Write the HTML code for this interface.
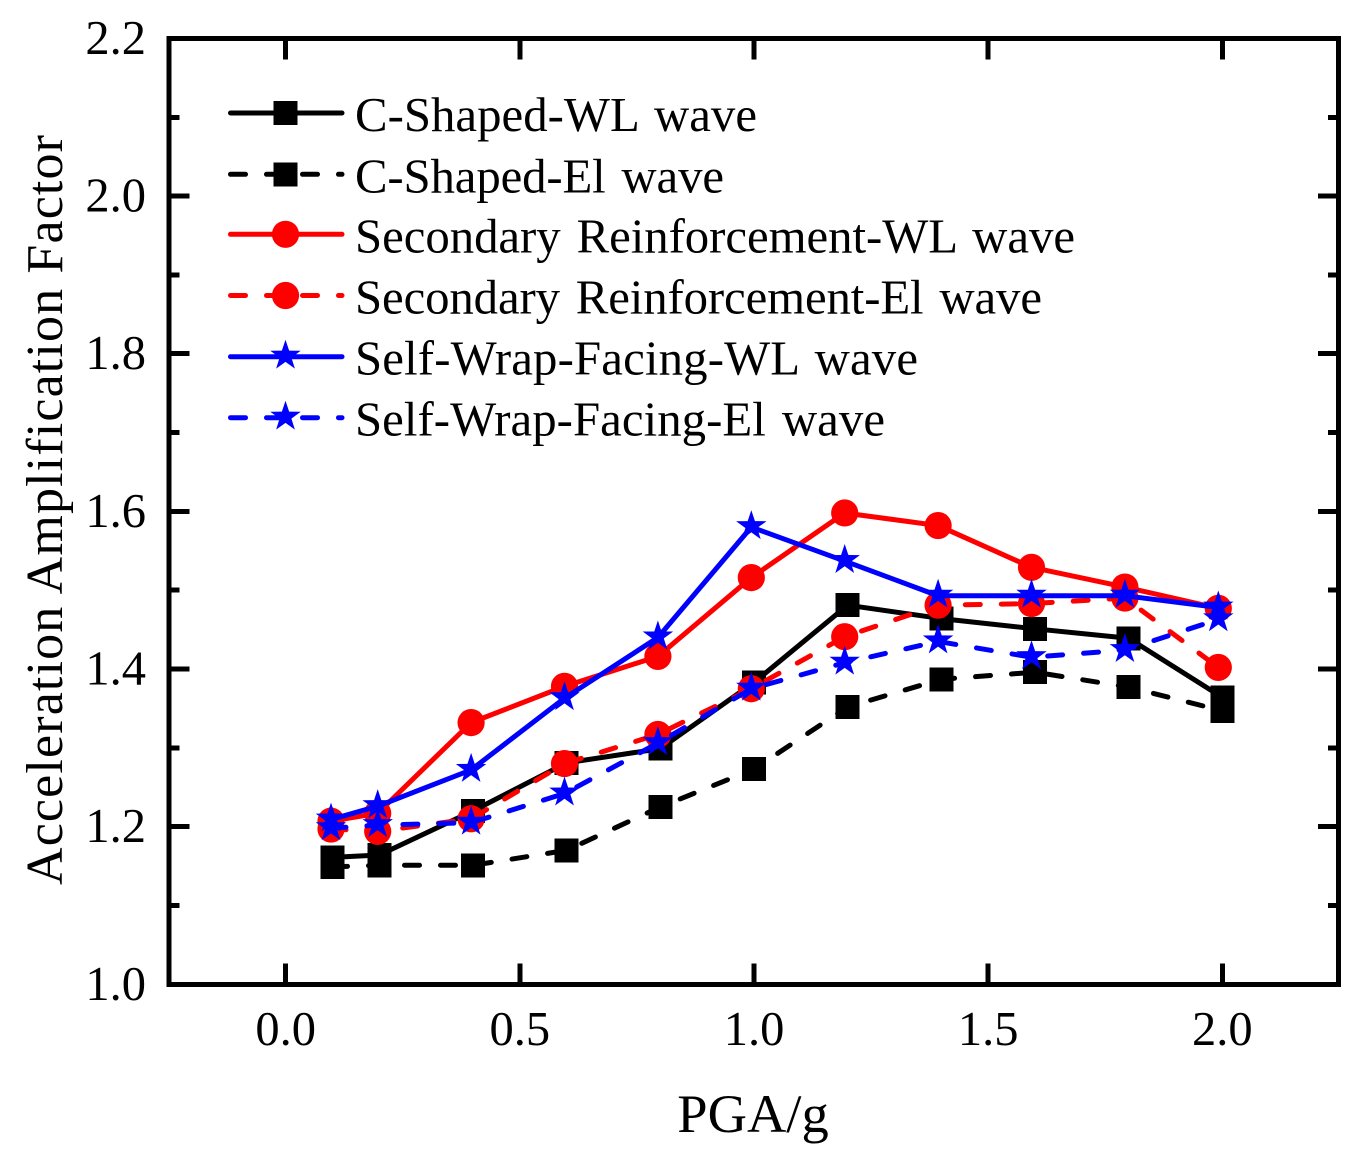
<!DOCTYPE html>
<html lang="en">
<head>
<meta charset="utf-8">
<title>Acceleration Amplification Factor vs PGA</title>
<style>
  html, body { margin: 0; padding: 0; background: #fff; }
  svg { display: block; }
  text { font-family: "Liberation Serif", serif; fill: #000; }
</style>
</head>
<body>
<svg id="chart" xmlns="http://www.w3.org/2000/svg" width="1361" height="1160" viewBox="0 0 1361 1160">
  <rect x="0" y="0" width="1361" height="1160" fill="#fff"/>
  <g id="ticks" shape-rendering="crispEdges"></g>
  <g id="series"></g>
  <rect x="169" y="38.5" width="1169.5" height="945.8" fill="none" stroke="#000" stroke-width="5" shape-rendering="crispEdges"/>
  <g id="tick-labels"></g>
  <g id="legend"></g>
  <text x="753" y="1132" font-size="54.5" text-anchor="middle">PGA/g</text>
  <text transform="translate(62 510) rotate(-90)" font-size="52" text-anchor="middle" textLength="750" lengthAdjust="spacing">Acceleration Amplification Factor</text>
</svg>
<script>
const pgaLevels = [0.1, 0.2, 0.4, 0.6, 0.8, 1.0, 1.2, 1.4, 1.6, 1.8, 2.0];
const cShapedWL = [1.161, 1.164, 1.220, 1.281, 1.299, 1.383, 1.481, 1.464, 1.451, 1.439, 1.364];
const cShapedEl = [1.149, 1.151, 1.151, 1.170, 1.225, 1.273, 1.352, 1.387, 1.396, 1.377, 1.347];
const secondaryWL = [1.207, 1.217, 1.332, 1.378, 1.416, 1.516, 1.598, 1.582, 1.529, 1.504, 1.477];
const secondaryEl = [1.197, 1.194, 1.210, 1.280, 1.317, 1.375, 1.441, 1.481, 1.483, 1.490, 1.402];
const selfWrapWL = [1.209, 1.226, 1.272, 1.363, 1.440, 1.580, 1.537, 1.493, 1.493, 1.493, 1.478];
const selfWrapEl = [1.198, 1.202, 1.205, 1.242, 1.306, 1.375, 1.408, 1.435, 1.415, 1.424, 1.463];
const xTickLabels = ['0.0', '0.5', '1.0', '1.5', '2.0'];
const yTickLabels = ['1.0', '1.2', '1.4', '1.6', '1.8', '2.0', '2.2'];
const yMinorTicks = [1.1, 1.3, 1.5, 1.7, 1.9, 2.1];

const seriesList = [
  { key: 'c-shaped-wl', label: 'C-Shaped-WL wave', values: cShapedWL, color: '#000', dashed: false, marker: 'square', labelWidth: 402 },
  { key: 'c-shaped-el', label: 'C-Shaped-El wave', values: cShapedEl, color: '#000', dashed: true, marker: 'square', labelWidth: 369 },
  { key: 'secondary-wl', label: 'Secondary Reinforcement-WL wave', values: secondaryWL, color: '#f00', dashed: false, marker: 'circle', labelWidth: 720 },
  { key: 'secondary-el', label: 'Secondary Reinforcement-El wave', values: secondaryEl, color: '#f00', dashed: true, marker: 'circle', labelWidth: 687 },
  { key: 'self-wrap-wl', label: 'Self-Wrap-Facing-WL wave', values: selfWrapWL, color: '#00f', dashed: false, marker: 'star', labelWidth: 563 },
  { key: 'self-wrap-el', label: 'Self-Wrap-Facing-El wave', values: selfWrapEl, color: '#00f', dashed: true, marker: 'star', labelWidth: 530 }
];

const SVGNS = 'http://www.w3.org/2000/svg';
const xScale = v => 285.7 + (v - 0) * 468.3;
const yScale = v => 984.3 - (v - 1) * 788.2;
const xFor = (s, v) => xScale(v) + (s.marker === 'square' ? 0 : -1.4 - 1.3 * v);

function make(tag, attrs, parent) {
  const el = document.createElementNS(SVGNS, tag);
  for (const k in attrs) el.setAttribute(k, attrs[k]);
  parent.appendChild(el);
  return el;
}

function drawMarker(parent, type, cx, cy, color) {
  let el;
  if (type === 'square') {
    el = make('rect', { x: cx - 12, y: cy - 12, width: 24, height: 24, fill: color, 'shape-rendering': 'crispEdges' }, parent);
  } else if (type === 'circle') {
    el = make('circle', { cx: cx, cy: cy, r: 13.6, fill: color }, parent);
  } else {
    const R = 16, r = 6.2, pts = [];
    for (let i = 0; i < 10; i++) {
      const a = -Math.PI / 2 + i * Math.PI / 5;
      const rad = i % 2 === 0 ? R : r;
      pts.push((cx + rad * Math.cos(a)).toFixed(2) + ',' + (cy - 1 + rad * Math.sin(a)).toFixed(2));
    }
    el = make('polygon', { points: pts.join(' '), fill: color }, parent);
  }
  
  
  return el;
}

function lineStyle(s) {
  const st = { fill: 'none', stroke: s.color, 'stroke-width': 5, 'stroke-linejoin': 'round', 'stroke-linecap': 'round' };
  if (s.dashed) st['stroke-dasharray'] = '15 21';
  return st;
}

const ticksG = document.getElementById('ticks');
xTickLabels.forEach(label => {
  const x = xScale(parseFloat(label));
  const bottom = make('line', { x1: x, x2: x, y1: 984.3, y2: 963.5, stroke: '#000', 'stroke-width': 5 }, ticksG);
  
  
  const top = make('line', { x1: x, x2: x, y1: 38.5, y2: 59.3, stroke: '#000', 'stroke-width': 5 }, ticksG);
  
  
});
yTickLabels.forEach(label => {
  const y = yScale(parseFloat(label));
  const left = make('line', { x1: 169, x2: 189.5, y1: y, y2: y, stroke: '#000', 'stroke-width': 5 }, ticksG);
  
  
  const right = make('line', { x1: 1338.5, x2: 1318, y1: y, y2: y, stroke: '#000', 'stroke-width': 5 }, ticksG);
  
  
});
yMinorTicks.forEach(v => {
  const y = yScale(v);
  const left = make('line', { x1: 169, x2: 179.5, y1: y, y2: y, stroke: '#000', 'stroke-width': 5 }, ticksG);
  
  
  const right = make('line', { x1: 1338.5, x2: 1328, y1: y, y2: y, stroke: '#000', 'stroke-width': 5 }, ticksG);
  
  
});

const labelsG = document.getElementById('tick-labels');
xTickLabels.forEach(label => {
  const t = make('text', { x: xScale(parseFloat(label)), y: 1045, 'font-size': 48.5, 'text-anchor': 'middle' }, labelsG);
  
  
  t.textContent = label;
});
yTickLabels.forEach(label => {
  const t = make('text', { x: 146, y: yScale(parseFloat(label)) + 15.5, 'font-size': 48.5, 'text-anchor': 'end' }, labelsG);
  
  
  t.textContent = label;
});

const seriesG = document.getElementById('series');
seriesList.forEach(s => {
  const g = make('g', {}, seriesG);
  
  
  const d = s.values.map((v, i) => (i ? 'L' : 'M') + xFor(s, pgaLevels[i]).toFixed(2) + ' ' + yScale(v).toFixed(2)).join(' ');
  const path = make('path', Object.assign({ d: d }, lineStyle(s)), g);
  
  
  s.values.forEach((v, i) => drawMarker(g, s.marker, xFor(s, pgaLevels[i]), yScale(v), s.color));
});

const legendG = document.getElementById('legend');
const legendRows = [113, 174.3, 234.3, 295.5, 356.7, 417.7];
seriesList.forEach((s, i) => {
  const y = legendRows[i];
  const row = make('g', {}, legendG);
  
  
  const ln = make('path', Object.assign({ d: 'M230.5 ' + y + ' L342 ' + y }, lineStyle(s)), row);
  
  
  drawMarker(row, s.marker, 285.5, y, s.color);
  const t = make('text', { x: 355, y: y + 18, 'font-size': 48.8, 'word-spacing': 3.8, textLength: s.labelWidth, lengthAdjust: 'spacing' }, row);
  
  
  t.textContent = s.label;
});
</script>
</body>
</html>
